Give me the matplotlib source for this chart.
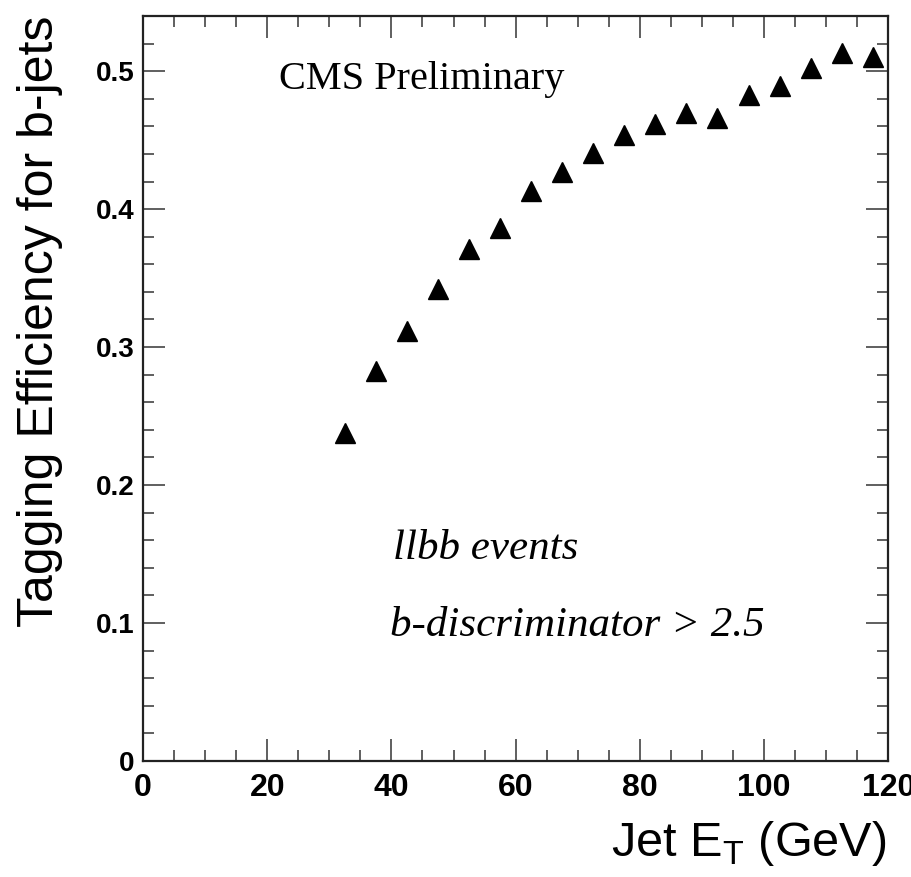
import numpy as np
import matplotlib
matplotlib.use("Agg")
import matplotlib.pyplot as plt
from matplotlib.ticker import MultipleLocator

# =========================
# DATA
# =========================
jet_et = [32.5, 37.5, 42.5, 47.5, 52.5, 57.5, 62.5, 67.5, 72.5,
          77.5, 82.5, 87.5, 92.5, 97.5, 102.5, 107.5, 112.5, 117.5]
eff = [0.238, 0.283, 0.312, 0.342, 0.371, 0.386, 0.413, 0.427, 0.441,
       0.454, 0.462, 0.470, 0.466, 0.483, 0.489, 0.502, 0.513, 0.510]

x_ticks = [0, 20, 40, 60, 80, 100, 120]
y_ticks = [0, 0.1, 0.2, 0.3, 0.4, 0.5]
y_tick_labels = ["0", "0.1", "0.2", "0.3", "0.4", "0.5"]

# =========================
# FIGURE
# =========================
fig = plt.figure(figsize=(9.11, 8.77), dpi=100)
ax = fig.add_axes([0.157, 0.1323, 0.818, 0.8495])

ax.plot(jet_et, eff, linestyle="none", marker="^", markersize=14,
        color="black")

ax.set_xlim(0, 120)
ax.set_ylim(0, 0.54)

ax.set_xticks(x_ticks)
ax.set_xticklabels([str(v) for v in x_ticks])
ax.set_yticks(y_ticks)
ax.set_yticklabels(y_tick_labels)
ax.xaxis.set_minor_locator(MultipleLocator(5))
ax.yaxis.set_minor_locator(MultipleLocator(0.02))

ax.tick_params(which="both", direction="in", top=True, right=True,
               color="#444444", width=1.2)
ax.tick_params(which="major", length=16)
ax.tick_params(which="minor", length=8)
ax.tick_params(axis="x", which="major", pad=9)
ax.tick_params(axis="y", which="major", pad=6)

for lab in ax.get_xticklabels():
    lab.set_fontfamily("Liberation Sans")
    lab.set_fontweight("bold")
    lab.set_fontsize(23)
for lab in ax.get_yticklabels():
    lab.set_fontfamily("Liberation Sans")
    lab.set_fontweight("bold")
    lab.set_fontsize(20)

for sp in ax.spines.values():
    sp.set_linewidth(1.6)
    sp.set_color("#222222")

# axis titles
fig.text(0.973, 0.038, r"Jet E$_\mathregular{T}$ (GeV)", ha="right",
         va="center", fontsize=35, family="Liberation Sans")
fig.text(0.044, 0.982, "Tagging Efficiency for b-jets", ha="center",
         va="top", rotation=90, fontsize=36, family="Liberation Sans")

# annotations
ax.text(0.183, 0.915, "CMS Preliminary", transform=ax.transAxes,
        fontsize=29, family="Liberation Serif", va="center", ha="left")
ax.text(0.335, 0.285, "llbb events", transform=ax.transAxes,
        fontsize=31, family="Liberation Serif", style="italic",
        va="center", ha="left")
ax.text(0.331, 0.182, "b-discriminator > 2.5", transform=ax.transAxes,
        fontsize=31, family="Liberation Serif", style="italic",
        va="center", ha="left")

fig.savefig("out.png", dpi=100)
